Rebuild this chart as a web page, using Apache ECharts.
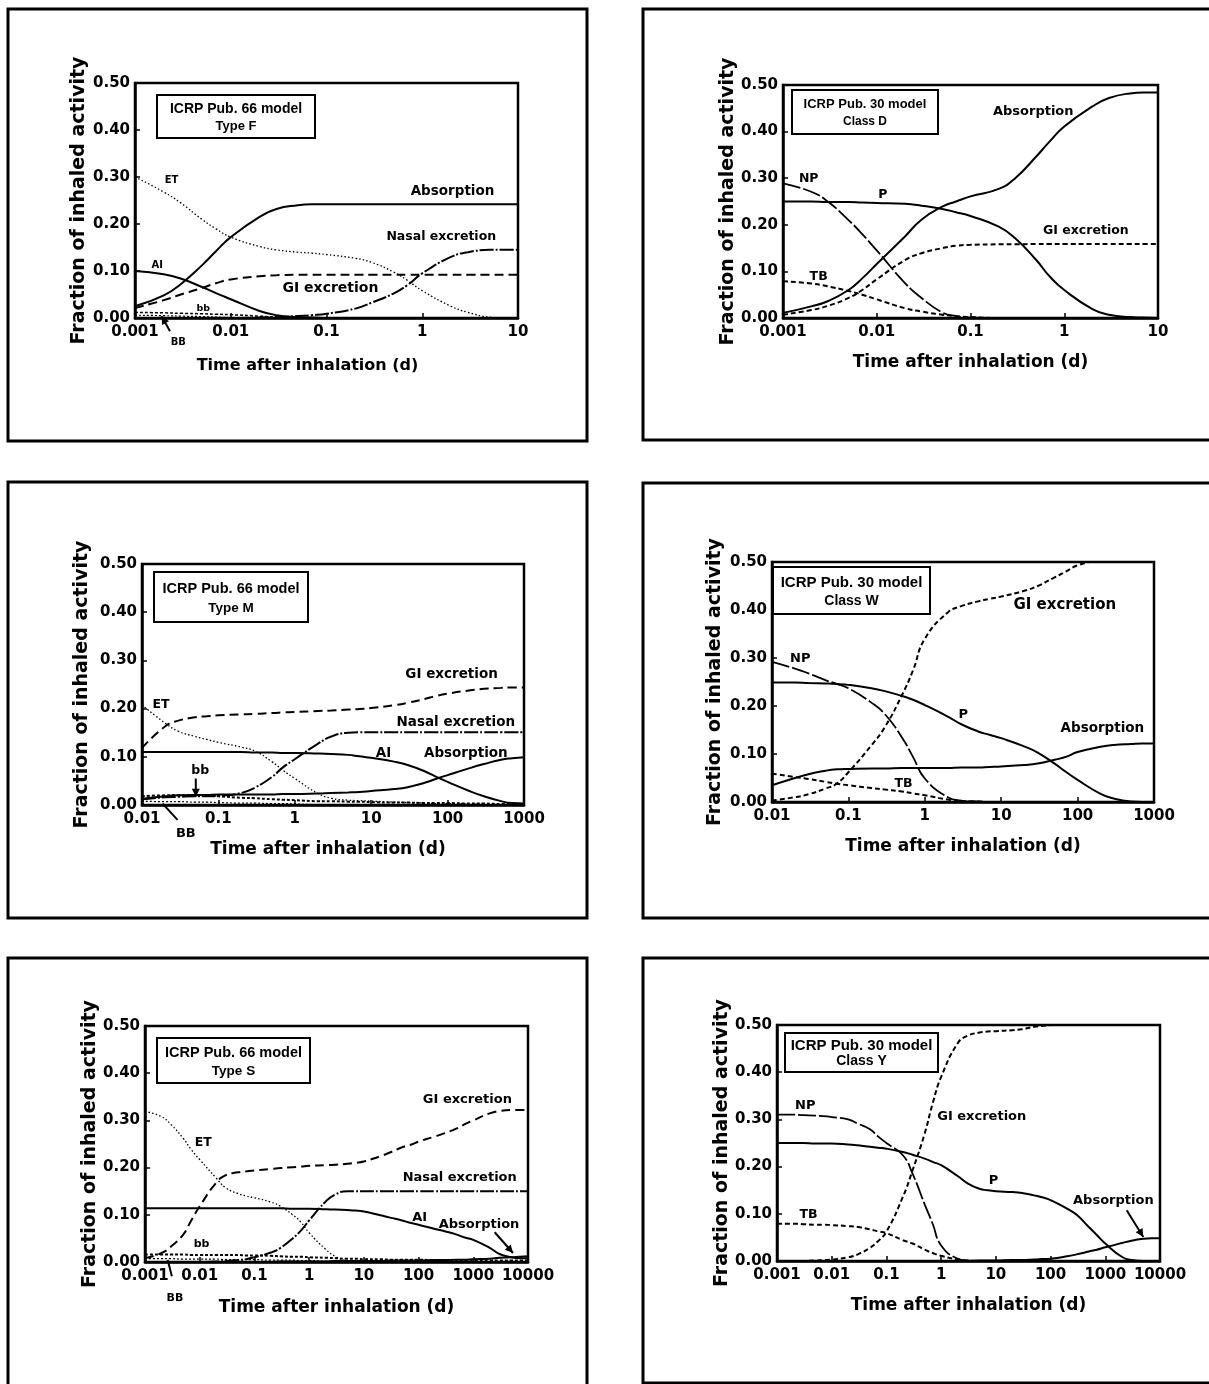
<!DOCTYPE html>
<html><head><meta charset="utf-8">
<script src="https://cdn.jsdelivr.net/npm/echarts/dist/echarts.min.js"></script>
<style>html,body{margin:0;padding:0;background:#fff}#c{width:1209px;height:1384px}</style>
</head><body><div id="c"></div>
<script>
// ---------- DATA ----------
// Panel 1: ICRP Pub. 66 model, Type F
const p1X = [0.001,0.002,0.003,0.005,0.007,0.01,0.02,0.03,0.05,0.07,0.1,0.2,0.3,0.5,0.7,1,2,3,5,7,10];
const p1ET  = [0.300,0.268,0.245,0.210,0.190,0.172,0.152,0.145,0.140,0.138,0.135,0.127,0.118,0.098,0.080,0.058,0.025,0.012,0.002,0,0];
const p1Abs = [0.025,0.048,0.072,0.112,0.142,0.172,0.215,0.232,0.240,0.242,0.242,0.242,0.242,0.242,0.242,0.242,0.242,0.242,0.242,0.242,0.242];
const p1AI  = [0.100,0.093,0.084,0.066,0.053,0.040,0.015,0.006,0.002,0.001,0,0,0,0,0,0,0,0,0,0,0];
const p1GI  = [0.021,0.038,0.050,0.064,0.074,0.082,0.089,0.091,0.092,0.092,0.092,0.092,0.092,0.092,0.092,0.092,0.092,0.092,0.092,0.092,0.092];
const p1Nasal = [0,0,0,0,0,0,0.001,0.002,0.004,0.006,0.009,0.020,0.033,0.052,0.070,0.095,0.130,0.140,0.145,0.145,0.145];
const p1bb  = [0.012,0.011,0.010,0.009,0.008,0.007,0.004,0.002,0.001,0,0,0,0,0,0,0,0,0,0,0,0];
const p1BB  = [0.006,0.005,0.004,0.003,0.002,0.001,0,0,0,0,0,0,0,0,0,0,0,0,0,0,0];

// Panel 2: ICRP Pub. 30 model, Class D
const p2X = [0.001,0.002,0.003,0.005,0.007,0.01,0.02,0.03,0.05,0.07,0.1,0.2,0.3,0.5,0.7,1,2,3,5,7,10];
const p2NP  = [0.289,0.271,0.250,0.210,0.180,0.145,0.075,0.043,0.012,0.004,0.001,0,0,0,0,0,0,0,0,0,0];
const p2P   = [0.250,0.250,0.249,0.249,0.248,0.247,0.245,0.241,0.234,0.227,0.219,0.196,0.171,0.125,0.089,0.060,0.019,0.007,0.002,0.001,0];
const p2Abs = [0.011,0.025,0.036,0.060,0.085,0.116,0.175,0.211,0.239,0.250,0.261,0.277,0.300,0.346,0.379,0.411,0.454,0.472,0.482,0.484,0.484];
const p2GI  = [0.007,0.017,0.026,0.043,0.060,0.083,0.124,0.139,0.150,0.155,0.157,0.158,0.158,0.159,0.159,0.159,0.159,0.159,0.159,0.159,0.159];
const p2TB  = [0.079,0.074,0.068,0.058,0.050,0.040,0.021,0.014,0.007,0.004,0.002,0,0,0,0,0,0,0,0,0,0];

// Panel 3: ICRP Pub. 66 model, Type M
const p3X = [0.01,0.02,0.03,0.05,0.07,0.1,0.2,0.3,0.5,0.7,1,2,3,5,7,10,20,30,50,70,100,200,300,500,700,1000];
const p3ET  = [0.208,0.170,0.153,0.142,0.136,0.130,0.120,0.112,0.090,0.072,0.055,0.024,0.014,0.010,0.009,0.008,0.006,0.005,0.004,0.003,0.003,0.002,0.001,0,0,0];
const p3GI  = [0.118,0.163,0.175,0.182,0.184,0.186,0.188,0.189,0.191,0.192,0.193,0.195,0.196,0.198,0.199,0.201,0.207,0.212,0.220,0.226,0.231,0.238,0.241,0.243,0.244,0.244];
const p3Nasal = [0.012,0.016,0.017,0.018,0.018,0.019,0.025,0.036,0.058,0.078,0.095,0.127,0.142,0.150,0.151,0.151,0.151,0.151,0.151,0.151,0.151,0.151,0.151,0.151,0.151,0.151];
const p3AI  = [0.110,0.110,0.110,0.110,0.110,0.110,0.110,0.109,0.109,0.108,0.108,0.107,0.106,0.104,0.101,0.098,0.090,0.083,0.070,0.059,0.048,0.028,0.018,0.008,0.004,0.003];
const p3Abs = [0.013,0.018,0.020,0.021,0.021,0.022,0.022,0.022,0.022,0.023,0.023,0.024,0.025,0.026,0.027,0.029,0.033,0.037,0.046,0.054,0.062,0.077,0.085,0.094,0.097,0.099];
const p3bb  = [0.018,0.020,0.020,0.020,0.019,0.018,0.015,0.014,0.012,0.011,0.010,0.008,0.008,0.007,0.007,0.006,0.005,0.005,0.004,0.004,0.004,0.003,0.003,0.002,0.002,0.002];
const p3BB  = [0.008,0.007,0.007,0.006,0.006,0.005,0.004,0.004,0.003,0.003,0.002,0.001,0.001,0,0,0,0,0,0,0,0,0,0,0,0,0];

// Panel 4: ICRP Pub. 30 model, Class W
const p4X = [0.01,0.02,0.03,0.05,0.07,0.1,0.2,0.3,0.5,0.7,1,2,3,5,7,10,20,30,50,70,100,200,300,500,700,1000];
const p4NP  = [0.292,0.278,0.268,0.254,0.246,0.237,0.207,0.183,0.135,0.094,0.049,0.010,0.003,0.001,0,0,0,0,0,0,0,0,0,0,0,0];
const p4P   = [0.249,0.249,0.248,0.247,0.246,0.244,0.237,0.231,0.221,0.213,0.202,0.178,0.162,0.147,0.140,0.133,0.116,0.103,0.080,0.063,0.046,0.017,0.007,0.001,0,0];
const p4Abs = [0.035,0.050,0.058,0.065,0.068,0.069,0.070,0.070,0.071,0.071,0.071,0.071,0.072,0.072,0.073,0.074,0.077,0.080,0.088,0.094,0.104,0.115,0.119,0.121,0.122,0.122];
const p4GI  = [0.003,0.010,0.016,0.028,0.038,0.062,0.118,0.156,0.222,0.274,0.340,0.395,0.408,0.418,0.423,0.428,0.440,0.450,0.468,0.480,0.493,0.505,0.510,0.515,0.520,0.520];
const p4TB  = [0.059,0.052,0.048,0.042,0.038,0.035,0.029,0.026,0.022,0.018,0.014,0.005,0.002,0.001,0,0,0,0,0,0,0,0,0,0,0,0];

// Panel 5: ICRP Pub. 66 model, Type S
const p5X = [0.001,0.002,0.003,0.005,0.007,0.01,0.02,0.03,0.05,0.07,0.1,0.2,0.3,0.5,0.7,1,2,3,5,7,10,20,30,50,70,100,200,300,500,700,1000,2000,3000,5000,7000,10000];
const p5ET  = [0.319,0.308,0.291,0.262,0.238,0.217,0.178,0.157,0.145,0.140,0.136,0.127,0.118,0.100,0.085,0.062,0.027,0.012,0.002,0,0,0,0,0,0,0,0,0,0,0,0,0,0,0,0,0];
const p5GI  = [0.008,0.019,0.033,0.058,0.088,0.118,0.168,0.184,0.190,0.192,0.194,0.197,0.199,0.201,0.202,0.204,0.205,0.206,0.208,0.210,0.213,0.224,0.232,0.243,0.248,0.255,0.266,0.273,0.283,0.292,0.300,0.315,0.320,0.322,0.322,0.322];
const p5Nasal = [0,0,0,0,0,0,0.001,0.002,0.004,0.006,0.010,0.020,0.030,0.050,0.066,0.088,0.128,0.143,0.150,0.150,0.150,0.150,0.150,0.150,0.150,0.150,0.150,0.150,0.150,0.150,0.150,0.150,0.150,0.150,0.150,0.150];
const p5AI  = [0.114,0.114,0.114,0.114,0.114,0.114,0.114,0.114,0.114,0.114,0.114,0.114,0.114,0.113,0.113,0.113,0.112,0.111,0.110,0.109,0.107,0.099,0.094,0.088,0.083,0.079,0.070,0.065,0.058,0.052,0.047,0.030,0.017,0.010,0.008,0.008];
const p5Abs = [0,0,0,0,0,0,0,0,0,0,0,0,0.001,0.001,0.001,0.001,0.001,0.002,0.002,0.002,0.002,0.002,0.003,0.003,0.003,0.003,0.004,0.004,0.005,0.005,0.006,0.007,0.009,0.010,0.011,0.012];
const p5bb  = [0.016,0.016,0.016,0.016,0.015,0.015,0.015,0.015,0.015,0.014,0.014,0.013,0.012,0.011,0.011,0.010,0.009,0.008,0.007,0.007,0.006,0.006,0.005,0.005,0.005,0.005,0.004,0.004,0.004,0.004,0.004,0.003,0.003,0.003,0.003,0.003];
const p5BB  = [0.007,0.007,0.007,0.006,0.006,0.006,0.006,0.005,0.005,0.005,0.005,0.004,0.004,0.004,0.003,0.003,0.002,0.002,0.001,0.001,0.001,0,0,0,0,0,0,0,0,0,0,0,0,0,0,0];

// Panel 6: ICRP Pub. 30 model, Class Y
const p6X = [0.001,0.002,0.003,0.005,0.007,0.01,0.02,0.03,0.05,0.07,0.1,0.2,0.3,0.5,0.7,1,2,3,5,7,10,20,30,50,70,100,200,300,500,700,1000,2000,3000,5000,7000,10000];
const p6NP  = [0.310,0.310,0.309,0.308,0.307,0.305,0.300,0.291,0.279,0.264,0.250,0.224,0.185,0.120,0.079,0.033,0.005,0.001,0,0,0,0,0,0,0,0,0,0,0,0,0,0,0,0,0,0];
const p6P   = [0.250,0.250,0.250,0.249,0.249,0.249,0.247,0.245,0.242,0.240,0.238,0.231,0.225,0.217,0.210,0.203,0.180,0.165,0.153,0.150,0.148,0.146,0.144,0.139,0.135,0.129,0.111,0.098,0.072,0.055,0.037,0.009,0.002,0,0,0];
const p6GI  = [0,0,0,0.001,0.002,0.003,0.008,0.014,0.028,0.042,0.062,0.136,0.192,0.270,0.334,0.390,0.461,0.477,0.484,0.486,0.487,0.489,0.491,0.496,0.498,0.500,0.503,0.505,0.507,0.508,0.509,0.510,0.510,0.510,0.510,0.510];
const p6TB  = [0.079,0.079,0.078,0.077,0.077,0.076,0.074,0.072,0.067,0.063,0.059,0.044,0.037,0.024,0.017,0.011,0.003,0.001,0,0,0,0,0,0,0,0,0,0,0,0,0,0,0,0,0,0];
const p6Abs = [0,0,0,0,0,0,0,0,0,0,0,0,0,0,0,0,0,0,0.001,0.001,0.001,0.002,0.002,0.003,0.004,0.005,0.010,0.014,0.020,0.024,0.029,0.038,0.043,0.047,0.048,0.048];

// Tick values
const yTicks = [0, 0.1, 0.2, 0.3, 0.4, 0.5];

// ---------- LAYOUT / STYLE ----------
const FONT = 'DejaVu Sans';
const panels = [
  {grid:{left:135,top:83,width:383,height:235}, xmin:0.001, xmax:10, yGap:46, xGap:40, xShift:38, xFont:16,
   frame:[8,9,579,432], box:[157,95,158,43], boxText:['ICRP Pub. 66 model','Type F'], boxFont:14},
  {grid:{left:783,top:85,width:375,height:233}, xmin:0.001, xmax:10, yGap:42, xGap:36, xShift:0, xFont:17,
   frame:[643,9,580,431], box:[792,90,146,44], boxText:['ICRP Pub. 30 model','Class D'], boxFont:13},
  {grid:{left:142,top:564,width:382,height:241}, xmin:0.01, xmax:1000, yGap:50, xGap:36, xShift:10, xFont:17,
   frame:[8,482,579,436], box:[154,572,154,50], boxText:['ICRP Pub. 66 model','Type M'], boxFont:14.5},
  {grid:{left:772,top:562,width:382,height:240}, xmin:0.01, xmax:1000, yGap:47, xGap:36, xShift:0, xFont:17,
   frame:[643,483,580,435], box:[773,567,157,47], boxText:['ICRP Pub. 30 model','Class W'], boxFont:15},
  {grid:{left:145,top:1026,width:383,height:236}, xmin:0.001, xmax:10000, yGap:45, xGap:37, xShift:0, xFont:17,
   frame:[8,958,579,440], box:[157,1038,153,45], boxText:['ICRP Pub. 66 model','Type S'], boxFont:14.5},
  {grid:{left:777,top:1025,width:383,height:236}, xmin:0.001, xmax:10000, yGap:45, xGap:36, xShift:0, xFont:17,
   frame:[643,958,580,425], box:[785,1033,153,39], boxText:['ICRP Pub. 30 model','Class Y'], boxFont:15}
];

const SOLID = 'solid', DOT = [1.5,2.2], DASH = [9,5], SDASH = [5,3], DASHDOT = [14,2,2,2], LDASH = [18,3], SMALL = [3,2];

const seriesDefs = [
  [0, p1X, p1ET, DOT, 1.3], [0, p1X, p1Abs, SOLID, 2], [0, p1X, p1AI, SOLID, 2], [0, p1X, p1GI, DASH, 2],
  [0, p1X, p1Nasal, DASHDOT, 2], [0, p1X, p1bb, SMALL, 1.5], [0, p1X, p1BB, [2,2], 1.2],
  [1, p2X, p2NP, LDASH, 1.8], [1, p2X, p2P, SOLID, 2], [1, p2X, p2Abs, SOLID, 2], [1, p2X, p2GI, SDASH, 2], [1, p2X, p2TB, SDASH, 2],
  [2, p3X, p3ET, DOT, 1.3], [2, p3X, p3GI, DASH, 2], [2, p3X, p3Nasal, DASHDOT, 2], [2, p3X, p3AI, SOLID, 2],
  [2, p3X, p3Abs, SOLID, 2], [2, p3X, p3bb, SMALL, 2], [2, p3X, p3BB, [2,2], 1.2],
  [3, p4X, p4NP, LDASH, 1.8], [3, p4X, p4P, SOLID, 2], [3, p4X, p4Abs, SOLID, 2], [3, p4X, p4GI, SDASH, 2], [3, p4X, p4TB, SDASH, 2],
  [4, p5X, p5ET, DOT, 1.3], [4, p5X, p5GI, DASH, 2], [4, p5X, p5Nasal, DASHDOT, 2], [4, p5X, p5AI, SOLID, 2],
  [4, p5X, p5Abs, SOLID, 2], [4, p5X, p5bb, SMALL, 2], [4, p5X, p5BB, [2,2], 1.2],
  [5, p6X, p6NP, LDASH, 1.8], [5, p6X, p6P, SOLID, 2], [5, p6X, p6GI, SDASH, 2], [5, p6X, p6TB, SDASH, 2], [5, p6X, p6Abs, SOLID, 2]
];

// curve labels: [panel, text, x, y, fontSize]
const curveLabels = [
  [0,'ET',0.00241,0.293,10],[0,'Absorption',2.07,0.269,13.5],[0,'Nasal excretion',1.58,0.173,12.5],
  [0,'GI excretion',0.110,0.064,14],[0,'AI',0.00171,0.111,10],[0,'bb',0.00516,0.021,9.5],[0,'BB',0.00283,-0.052,10],
  [1,'NP',0.00188,0.298,12.5],[1,'P',0.0116,0.264,12.5],[1,'Absorption',0.467,0.443,13],[1,'GI excretion',1.70,0.187,12.5],[1,'TB',0.0024,0.088,12.5],
  [2,'GI excretion',112.7,0.270,13.5],[2,'Nasal excretion',128,0.171,13.5],[2,'AI',14.5,0.107,13.5],[2,'Absorption',173,0.107,13.5],
  [2,'ET',0.0177,0.208,12.5],[2,'bb',0.0577,0.071,12.5],[2,'BB',0.0375,-0.059,13],
  [3,'NP',0.0234,0.299,13],[3,'P',3.19,0.181,13],[3,'GI excretion',68,0.410,15],[3,'Absorption',211,0.153,13.5],[3,'TB',0.525,0.038,12.5],
  [4,'ET',0.0116,0.252,12.5],[4,'GI excretion',780,0.343,13],[4,'Nasal excretion',565,0.178,13],[4,'AI',105,0.093,13],
  [4,'Absorption',1273,0.080,13],[4,'bb',0.0108,0.037,11],[4,'BB',0.00353,-0.076,11],
  [5,'NP',0.00329,0.330,13],[5,'GI excretion',5.53,0.3055,13],[5,'P',9.04,0.171,13],[5,'TB',0.00378,0.099,12.5],[5,'Absorption',1403,0.127,13]
];
// pointers: [panel, x1, y1, x2, y2, arrowHead]
const pointers = [
  [0,0.00232,-0.028,0.0019,0.004,true],
  [2,0.0506,0.055,0.0506,0.017,true],[2,0.0292,-0.031,0.0186,0.003,false],
  [4,0.0031,-0.03,0.0026,0.004,false],[4,2460,0.063,5320,0.019,true],
  [5,2460,0.1075,4955,0.051,true]
];

// ---------- BUILD ----------
const chart = echarts.init(document.getElementById('c'), null, {renderer:'canvas'});
const fmtX = v => String(Number(Number(v).toPrecision(6)));
const boldText = (size) => ({color:'#000', fontFamily:FONT, fontWeight:'bold', fontSize:size});

const grid = [], xAxis = [], yAxis = [];
panels.forEach((p, i) => {
  grid.push(Object.assign({show:true, borderColor:'#000', borderWidth:2.5, backgroundColor:'transparent'}, p.grid));
  xAxis.push({
    type:'log', logBase:10, gridIndex:i, min:p.xmin, max:p.xmax,
    axisLine:{show:true, onZero:false, lineStyle:{color:'#000', width:2.5}},
    axisTick:{show:true, inside:true, length:5, lineStyle:{color:'#000', width:1.5}},
    minorTick:{show:false}, splitLine:{show:false},
    axisLabel:Object.assign({formatter:fmtX, margin:7}, boldText(15)),
    name:'Time after inhalation (d)', nameLocation:'middle', nameGap:p.xGap,
    nameTextStyle:Object.assign({padding:[0,p.xShift,0,0]}, boldText(p.xFont))
  });
  yAxis.push({
    type:'value', gridIndex:i, min:yTicks[0], max:yTicks[yTicks.length-1], interval:yTicks[1]-yTicks[0],
    axisLine:{show:true, onZero:false, lineStyle:{color:'#000', width:2.5}},
    axisTick:{show:true, inside:true, length:5, lineStyle:{color:'#000', width:1.5}},
    splitLine:{show:false},
    axisLabel:Object.assign({formatter:v => v.toFixed(2), margin:5}, boldText(15)),
    name:'Fraction of inhaled activity', nameLocation:'middle', nameGap:p.yGap,
    nameTextStyle:boldText(19)
  });
});

const series = seriesDefs.map(([pi, xs, ys, type, w]) => ({
  type:'line', xAxisIndex:pi, yAxisIndex:pi, silent:true,
  data: xs.map((x, k) => [x, ys[k]]),
  symbol:'none', showSymbol:false, smooth:0.5, clip:true,
  lineStyle:{color:'#000', width:w, type:type}
}));

chart.setOption({backgroundColor:'#fff', animation:false, grid, xAxis, yAxis, series});

// ---------- ANNOTATIONS ----------
const graphics = [];
panels.forEach(p => {
  const [fx, fy, fw, fh] = p.frame;
  graphics.push({type:'rect', shape:{x:fx, y:fy, width:fw, height:fh}, style:{fill:'none', stroke:'#000', lineWidth:3}, silent:true});
  const [bx, by, bw, bh] = p.box;
  graphics.push({type:'rect', shape:{x:bx, y:by, width:bw, height:bh}, style:{fill:'#fff', stroke:'#000', lineWidth:2}, z:10, silent:true});
  graphics.push({type:'text', x:bx + bw/2, y:by + bh*0.33, z:11, silent:true,
    style:{text:p.boxText[0], fill:'#000', font:'bold ' + p.boxFont + 'px "Liberation Sans"', textAlign:'center', textVerticalAlign:'middle'}});
  graphics.push({type:'text', x:bx + bw/2, y:by + bh*0.73, z:11, silent:true,
    style:{text:p.boxText[1], fill:'#000', font:'bold ' + (p.boxFont-1) + 'px "Liberation Sans"', textAlign:'center', textVerticalAlign:'middle'}});
});
curveLabels.forEach(([pi, t, x, y, fs]) => {
  const pt = chart.convertToPixel({gridIndex:pi}, [x, y]);
  graphics.push({type:'text', x:pt[0], y:pt[1], z:12, silent:true,
    style:{text:t, fill:'#000', font:'bold ' + fs + 'px "' + FONT + '"', textAlign:'center', textVerticalAlign:'middle'}});
});
pointers.forEach(([pi, x1, y1, x2, y2, head]) => {
  const a = chart.convertToPixel({gridIndex:pi}, [x1, y1]);
  const b = chart.convertToPixel({gridIndex:pi}, [x2, y2]);
  graphics.push({type:'line', z:12, silent:true, shape:{x1:a[0], y1:a[1], x2:b[0], y2:b[1]}, style:{stroke:'#000', lineWidth:2}});
  if (head) {
    const ang = Math.atan2(b[1]-a[1], b[0]-a[0]);
    const L = 8, W = 4;
    const bx = b[0] - L*Math.cos(ang), by = b[1] - L*Math.sin(ang);
    const nx = -Math.sin(ang)*W, ny = Math.cos(ang)*W;
    graphics.push({type:'polygon', z:12, silent:true,
      shape:{points:[[b[0],b[1]],[bx+nx,by+ny],[bx-nx,by-ny]]}, style:{fill:'#000'}});
  }
});
chart.setOption({graphic: graphics});
</script>
</body></html>
